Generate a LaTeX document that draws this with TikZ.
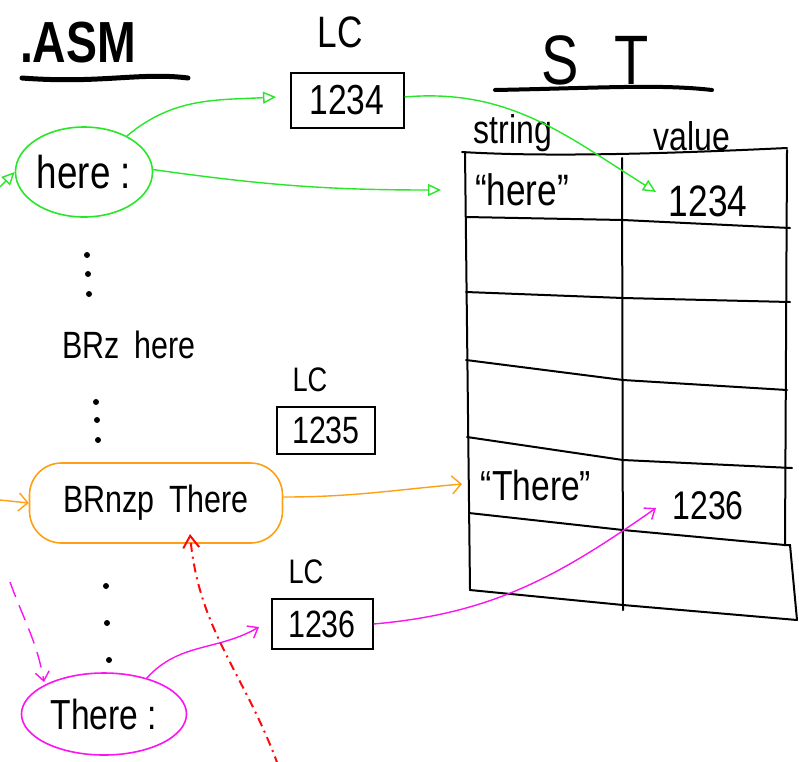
\documentclass[tikz,border=0pt]{standalone}
\usepackage{fontspec}
\setmainfont{Liberation Sans}[FakeStretch=0.8]
\usetikzlibrary{arrows.meta,shapes.geometric}

\definecolor{hgreen}{RGB}{40,230,40}
\definecolor{horange}{RGB}{255,160,20}
\definecolor{hmagenta}{RGB}{250,20,240}
\definecolor{hred}{RGB}{255,10,10}

\tikzset{
  lcbox/.style={draw, line width=2pt, inner sep=0pt},
  lclabel/.style={inner sep=0.75pt},
  celltext/.style={inner sep=0.75pt},
  rule/.style={line width=2pt, line cap=round},
  dotmark/.style={circle, fill, inner sep=0pt, minimum size=6pt},
  greenline/.style={hgreen, line width=1.4pt, -{Triangle[open, length=13pt, width=12pt]}},
  orangeline/.style={horange, line width=1.4pt, -{Straight Barb[length=9pt, width=18pt]}},
  magline/.style={hmagenta, line width=1.4pt, -{Straight Barb[length=9pt, width=14pt]}}
}
\newcommand{\fsz}[1]{\fontsize{#1}{#1}\selectfont}

\begin{document}
\begin{tikzpicture}[x=1pt,y=1pt,yscale=-1,xscale=1]
\useasboundingbox (0,0) rectangle (799,761);

% Titles
\draw (78,43) node [inner sep=0.75pt, font=\fsz{58}\bfseries] (asm) {.ASM};
\draw [line width=5pt, line cap=round] (22,78) .. controls (100,84) and (140,72) .. (188,78) ;
\draw (595,60) node [inner sep=0.75pt, font=\fsz{70}] (st) {S\,\,\,T};
\draw [line width=4pt, line cap=round] (495,90) .. controls (600,88) and (660,84) .. (712,90) ;

% Location counters
\draw (340,32) node [lclabel, font=\fsz{44}] (lcA) {LC};
\draw (347,100) node [lcbox, minimum width=113pt, minimum height=55pt, font=\fsz{42}] (boxA) {1234};
\draw (310,380) node [lclabel, font=\fsz{34}] (lcB) {LC};
\draw (326,430) node [lcbox, minimum width=98pt, minimum height=47pt, font=\fsz{38}] (boxB) {1235};
\draw (306,572) node [lclabel, font=\fsz{34}] (lcC) {LC};
\draw (322,624) node [lcbox, minimum width=101pt, minimum height=50pt, font=\fsz{38}] (boxC) {1236};

% Symbol table
\draw [rule] (462,152) .. controls (560,158) and (700,152) .. (787,148) ;
\draw [rule] (466,217) -- (623,220) -- (790,228) ;
\draw [rule] (466,292) -- (623,298) -- (790,302) ;
\draw [rule] (466,360) -- (623,380) -- (787,390) ;
\draw [rule] (467,437) -- (623,460) -- (792,468) ;
\draw [rule] (469,513) -- (623,530) -- (785,545) ;
\draw [rule] (470,590) -- (623,605) -- (797,620) ;
\draw [rule] (465,152) -- (470,590) ;
\draw [rule] (622,158) -- (623,610) ;
\draw [rule] (787,150) -- (785,545) -- (790,545) -- (797,620) ;
\draw (513,133) node [celltext, font=\fsz{40}] (hdrString) {string};
\draw (692,136) node [celltext, font=\fsz{40}] (hdrValue) {value};
\draw (522,190) node [celltext, font=\fsz{44}] (strHere) {“here”};
\draw (708,201) node [celltext, font=\fsz{44}] (valHere) {1234};
\draw (536,485) node [celltext, font=\fsz{42}] (strThere) {“There”};
\draw (708,506) node [celltext, font=\fsz{40}] (valThere) {1236};

% Source lines
\draw (84,172) node [ellipse, draw=hgreen, line width=1.6pt, minimum width=137pt, minimum height=90pt, inner sep=0pt, font=\fsz{46}] (here) {here :};
\draw (129,345) node [inner sep=0.75pt, font=\fsz{38}] (brz) {BRz\, here};
\draw (156,503) node [draw=horange, line width=1.6pt, rounded corners=32pt, minimum width=253pt, minimum height=80pt, font=\fsz{38}] (brnzp) {BRnzp\, There};
\draw (104,714) node [ellipse, draw=hmagenta, line width=1.6pt, minimum width=165pt, minimum height=82pt, inner sep=0pt, font=\fsz{42}] (there) {There :};

% Dots
\foreach \x/\y in {87/255, 88/274, 89/294, 96/402, 97/420, 98/440, 106/586, 107/623, 109/660}
  \node [dotmark] at (\x,\y) {};

% Arrow ends
\coordinate (inHere) at (0,187);
\coordinate (inBr) at (0,500);
\coordinate (tipLcA) at (276,97);
\coordinate (tipStrHere) at (441,190);
\coordinate (tipValHere) at (656,192);
\coordinate (tipStrThere) at (462,484);
\coordinate (tipLcC) at (259,627);
\coordinate (tipValThere) at (656,508);
\coordinate (magTail) at (10,582);
\coordinate (magTip) at (44,682);
\coordinate (redTail) at (278,765);
\coordinate (redTip) at (190,534);

% Connectors (angles negated: y axis points down)
\draw [greenline] (inHere) -- (here.west) ;
\draw [greenline] (here.40) to [out=-40, in=177] (tipLcA) ;
\draw [greenline] (here.2) to [out=8, in=180] (tipStrHere) ;
\draw [greenline] (boxA.east) ++(0,-3) to [out=-5, in=212] (tipValHere) ;
\draw [orangeline] (inBr) -- (brnzp.west) ;
\draw [orangeline] (brnzp.east) ++(0,-6) to [out=0, in=175] (tipStrThere) ;
\draw [magline] (there.40) to [out=-48, in=150] (tipLcC) ;
\draw [magline] (boxC.east) to [out=-5, in=145] (tipValThere) ;
\draw [magline, dash pattern=on 16pt off 9pt] (magTail) to [out=70, in=260] (magTip) ;
\draw [hred, line width=2pt, dash pattern=on 9pt off 5pt on 2pt off 5pt, -{Straight Barb[length=12pt, width=16pt]}] (redTail) to [out=-110, in=85] (redTip) ;

\end{tikzpicture}
\end{document}
